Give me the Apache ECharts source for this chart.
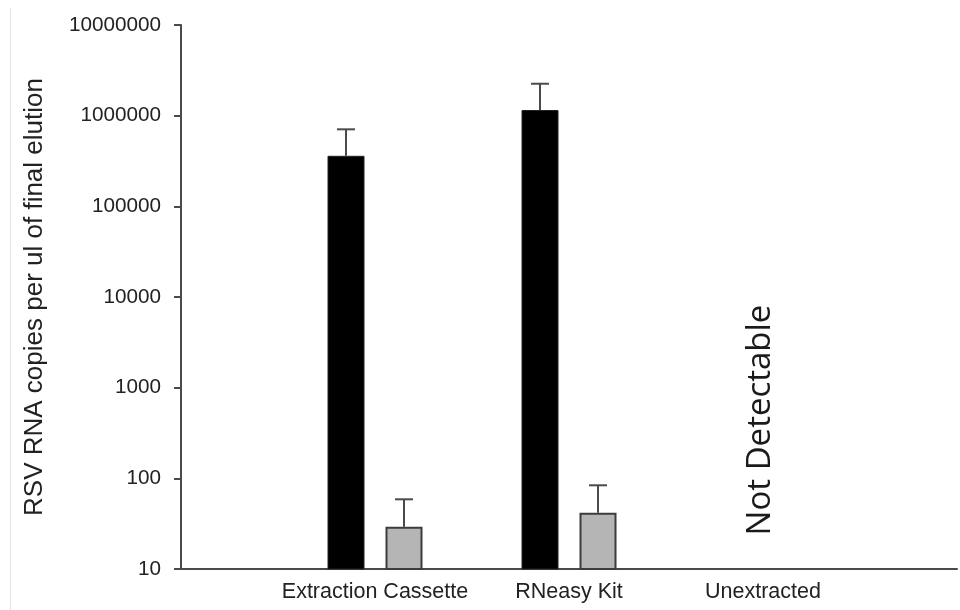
<!DOCTYPE html>
<html>
<head>
<meta charset="utf-8">
<script src="https://cdn.jsdelivr.net/npm/echarts@6/dist/echarts.min.js"></script>
<style>
  html, body { margin: 0; padding: 0; background: #ffffff; }
  #chart { width: 960px; height: 610px; }
</style>
</head>
<body>
<div id="chart"></div>
<script>
// Extraction methods (empty ends keep the three groups centred in their bands)
var categories = ['', 'Extraction Cassette', 'RNeasy Kit', 'Unextracted', ''];
// Mean RSV RNA copies per ul of final elution
var darkValues = [null, 361000, 1154000, null, null];
var lightValues = [null, 29.3, 41.8, null, null];
// Upper end of each error bar
var darkErrTop = [null, 707000, 2250000, null, null];
var lightErrTop = [null, 58.7, 83.8, null, null];
// Log axis decades
var yTicks = [10, 100, 1000, 10000, 100000, 1000000, 10000000];

var BAR_W = 37;
var BAR_GAP = 21;
var axisColor = '#4a4a4a';
var font = 'Liberation Sans, Arial, sans-serif';

function errorSeries(values, tops, side) {
  var data = [];
  for (var i = 0; i < categories.length; i++) {
    if (values[i] != null && tops[i] != null) data.push([i, values[i], tops[i]]);
  }
  return {
    type: 'custom',
    silent: true,
    z: 1,
    data: data,
    renderItem: function (params, api) {
      var off = side * (BAR_W + BAR_GAP) / 2;
      var base = api.coord([api.value(0), api.value(1)]);
      var top = api.coord([api.value(0), api.value(2)]);
      var x = base[0] + off;
      var cap = 9;
      var st = { stroke: axisColor, lineWidth: 2 };
      return {
        type: 'group',
        children: [
          { type: 'line', shape: { x1: x, y1: base[1], x2: x, y2: top[1] }, style: st },
          { type: 'line', shape: { x1: x - cap, y1: top[1], x2: x + cap, y2: top[1] }, style: st }
        ]
      };
    }
  };
}

var chart = echarts.init(document.getElementById('chart'));
chart.setOption({
  animation: false,
  backgroundColor: '#ffffff',
  grid: { left: 181, right: 0, top: 25, bottom: 41, containLabel: false },
  xAxis: {
    type: 'category',
    data: categories,
    boundaryGap: false,
    axisLine: { lineStyle: { color: axisColor, width: 2 } },
    axisTick: { show: false },
    axisLabel: { color: '#222', fontSize: 21.5, fontFamily: font, margin: 12, interval: 0 },
    splitLine: { show: false }
  },
  yAxis: {
    type: 'log',
    logBase: 10,
    min: yTicks[0],
    max: yTicks[yTicks.length - 1],
    name: 'RSV RNA copies per ul of final elution',
    nameLocation: 'middle',
    nameGap: 133,
    nameTextStyle: { color: '#222', fontSize: 26, fontFamily: font },
    axisLine: { show: true, lineStyle: { color: axisColor, width: 2 } },
    axisTick: { show: true, inside: false, length: 7, lineStyle: { color: axisColor, width: 2 } },
    axisLabel: {
      color: '#222', fontSize: 20.7, fontFamily: font, margin: 20,
      formatter: function (v) { return String(Math.round(v)); }
    },
    splitLine: { show: false }
  },
  series: [
    {
      type: 'bar',
      name: 'dark',
      data: darkValues,
      barWidth: BAR_W,
      barGap: (BAR_GAP / BAR_W * 100) + '%',
      clip: true,
      itemStyle: { color: '#000000', borderColor: '#222', borderWidth: 1 },
      z: 2
    },
    {
      type: 'bar',
      name: 'light',
      data: lightValues,
      barWidth: BAR_W,
      clip: true,
      itemStyle: { color: '#b5b5b5', borderColor: '#3c3c3c', borderWidth: 2 },
      z: 2
    },
    errorSeries(darkValues, darkErrTop, -1),
    errorSeries(lightValues, lightErrTop, 1)
  ]
});

// Annotation for the group with no detectable signal, plus the thin frame edge
var ndX = chart.convertToPixel({ xAxisIndex: 0 }, 'Unextracted') - 2;
chart.setOption({
  graphic: [
    {
      type: 'text',
      x: ndX,
      y: 420,
      rotation: Math.PI / 2,
      style: {
        text: 'Not Detectable',
        font: '33px "Open Sans", "Noto Sans", sans-serif',
        fill: '#1a1a1a',
        align: 'center',
        verticalAlign: 'middle'
      }
    },
    {
      type: 'line',
      shape: { x1: 10.5, y1: 8, x2: 10.5, y2: 610 },
      style: { stroke: '#e2e2e2', lineWidth: 1 }
    }
  ]
});
</script>
</body>
</html>
